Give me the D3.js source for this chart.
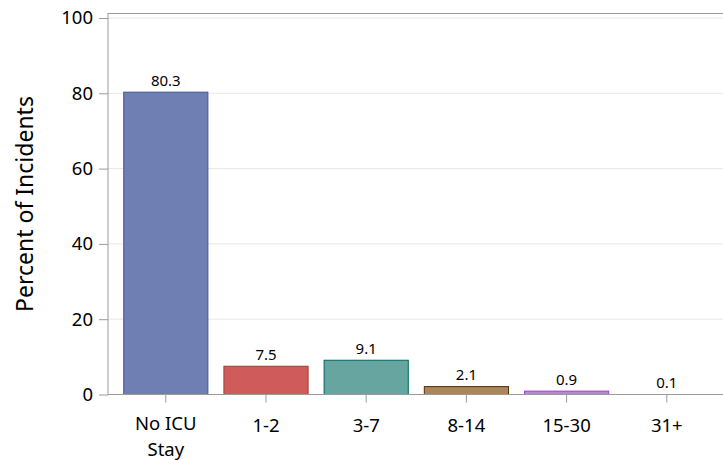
<!DOCTYPE html>
<html>
<head>
<meta charset="utf-8">
<script src="https://cdn.jsdelivr.net/npm/d3@7/dist/d3.min.js"></script>
<style>
  html, body { margin: 0; padding: 0; background: #fff; }
  svg { display: block; }
  text { font-family: "Noto Sans", "Open Sans", sans-serif; fill: #000; }
</style>
</head>
<body>
<div id="chart"></div>
<script>
const categories = ["No ICU|Stay", "1-2", "3-7", "8-14", "15-30", "31+"];
const values = [80.3, 7.5, 9.1, 2.1, 0.9, 0.1];
const yTicks = [0, 20, 40, 60, 80, 100];
const fills = ["#6F7EB3", "#D05B5B", "#66A5A0", "#A9865B", "#B689CD", "#BABC5C"];
const strokes = ["#445694", "#A23A2E", "#01665E", "#543005", "#9D3CDB", "#7F8E1F"];
const yTitle = "Percent of Incidents";

const W = 723, H = 460;
const plotLeft = 108, plotRight = 730, plotTop = 13;

const svg = d3.select("#chart").append("svg").attr("width", W).attr("height", H);

const x = d3.scaleBand().domain(categories).range([115.7, 716.9])
  .paddingInner(0.15).paddingOuter(0.075);
const y = d3.scaleLinear().domain([0, 100]).range([394.5, 18]);

// gridlines
svg.append("g").selectAll("line").data(yTicks.filter(d => d > 0)).join("line")
  .attr("x1", plotLeft).attr("x2", plotRight)
  .attr("y1", d => y(d)).attr("y2", d => y(d))
  .attr("stroke", "#E6E6E6").attr("stroke-width", 1);

// top border
svg.append("line").attr("x1", plotLeft).attr("x2", plotRight)
  .attr("y1", plotTop + 0.5).attr("y2", plotTop + 0.5)
  .attr("stroke", "#9A9A9A").attr("stroke-width", 1);

// bars
svg.append("g").selectAll("rect").data(values).join("rect")
  .attr("x", (d, i) => x(categories[i]) + 0.5)
  .attr("width", x.bandwidth() - 1)
  .attr("y", d => y(d))
  .attr("height", d => y(0) - y(d))
  .attr("fill", (d, i) => fills[i])
  .attr("stroke", (d, i) => (y(0) - y(d) < 1 ? "none" : strokes[i]))
  .attr("stroke-width", 1);

// value labels
svg.append("g").selectAll("text").data(values).join("text")
  .attr("x", (d, i) => x(categories[i]) + x.bandwidth() / 2)
  .attr("y", d => y(d) - 6.5)
  .attr("text-anchor", "middle")
  .attr("font-size", "15px")
  .text(d => d.toFixed(1));

// y axis
const yAxis = d3.axisLeft(y).tickValues(yTicks).tickSize(9).tickPadding(6).tickSizeOuter(0);
const gy = svg.append("g").attr("transform", `translate(${plotLeft},0)`).call(yAxis);
gy.select(".domain").remove();
gy.append("line").attr("x1", 0).attr("x2", 0).attr("y1", plotTop).attr("y2", y(0))
  .attr("stroke", "#9A9A9A");
gy.selectAll(".tick line").attr("stroke", "#9A9A9A");
gy.selectAll(".tick text").attr("font-size", "18.5px")
  .attr("font-family", "'Noto Sans', sans-serif").attr("fill", "#000");

// x axis
const xAxis = d3.axisBottom(x).tickSize(8).tickSizeOuter(0).tickFormat("");
const gx = svg.append("g").attr("transform", `translate(0,${y(0)})`).call(xAxis);
gx.select(".domain").remove();
gx.append("line").attr("x1", plotLeft).attr("x2", plotRight).attr("y1", 0).attr("y2", 0)
  .attr("stroke", "#9A9A9A");
gx.selectAll(".tick line").attr("stroke", "#9A9A9A");
gx.selectAll(".tick").each(function(d) {
  const lines = d.split("|");
  const g = d3.select(this);
  const base = lines.length > 1 ? 35.5 : 37;
  lines.forEach((ln, k) => {
    g.append("text")
      .attr("x", 0).attr("y", base + k * 25.5)
      .attr("text-anchor", "middle")
      .attr("font-size", "18.5px")
      .attr("font-family", "'Noto Sans', sans-serif")
      .attr("fill", "#000")
      .text(ln);
  });
});

// y title
svg.append("text")
  .attr("transform", `translate(33,204) rotate(-90)`)
  .attr("text-anchor", "middle")
  .attr("font-size", "23px")
  .text(yTitle);
</script>
</body>
</html>
